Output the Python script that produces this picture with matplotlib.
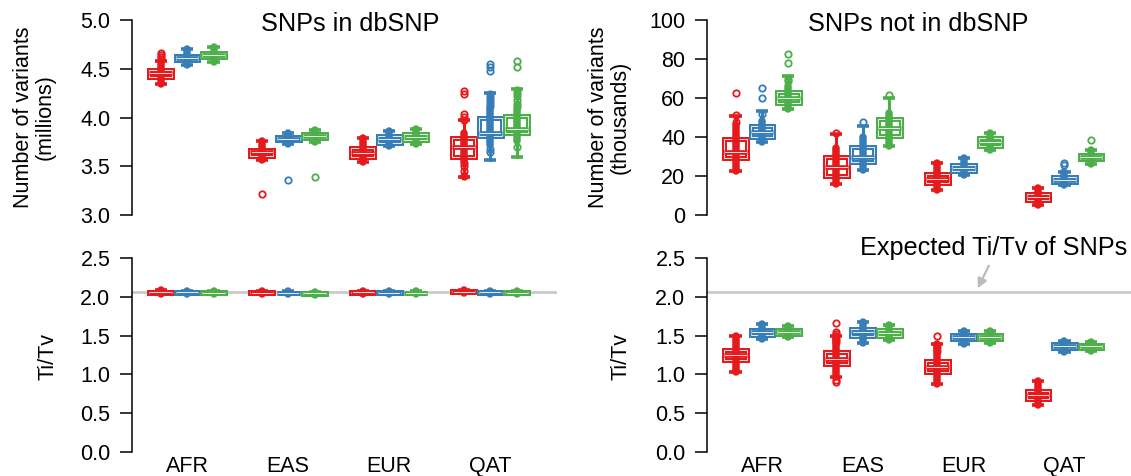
import matplotlib.pyplot as plt
from matplotlib.patches import Rectangle

plt.rcParams['font.family'] = ['Liberation Sans', 'DejaVu Sans']

populations = ['AFR', 'EAS', 'EUR', 'QAT']
colors = ['#E41A1C', '#377EB8', '#4DAF4A']
expected_titv = 2.06

# SNPs in dbSNP (millions); rows = red, blue, green series; columns = populations
known_lo = [[4.34, 3.56, 3.54, 3.39], [4.54, 3.73, 3.71, 3.56], [4.57, 3.75, 3.73, 3.59]]
known_q1 = [[4.42, 3.61, 3.60, 3.60], [4.59, 3.765, 3.74, 3.81], [4.62, 3.79, 3.77, 3.84]]
known_med = [[4.46, 3.645, 3.64, 3.70], [4.61, 3.78, 3.78, 3.84], [4.64, 3.81, 3.80, 3.88]]
known_q3 = [[4.49, 3.67, 3.69, 3.79], [4.63, 3.80, 3.81, 3.99], [4.66, 3.83, 3.83, 4.02]]
known_hi = [[4.58, 3.76, 3.79, 3.97], [4.70, 3.84, 3.86, 4.25], [4.72, 3.87, 3.88, 4.29]]
known_core_lo = [[4.34, 3.56, 3.54, 3.55], [4.54, 3.73, 3.71, 3.72], [4.57, 3.75, 3.73, 3.76]]
known_core_hi = [[4.58, 3.76, 3.79, 3.84], [4.70, 3.84, 3.86, 4.10], [4.72, 3.87, 3.88, 4.08]]
known_pts = [
    [[4.60, 4.62, 4.64, 4.66], [3.22], [], [4.27, 4.24, 4.04, 4.01, 3.97, 3.53, 3.50, 3.45, 3.40]],
    [[], [3.36], [], [4.55, 4.52, 4.48, 4.24, 4.21, 4.18, 4.15, 4.12, 3.68, 3.65]],
    [[], [3.39], [], [4.58, 4.52, 4.28, 4.25, 4.22, 4.18, 4.14, 4.11, 3.70]],
]

# SNPs not in dbSNP (thousands)
novel_lo = [[22.5, 16, 13, 5], [37.5, 23, 20.5, 15.5], [54.5, 35.5, 33.5, 26]]
novel_q1 = [[29, 20, 16.5, 7.5], [40, 27, 22.5, 17], [57.5, 40.5, 35.5, 28.5]]
novel_med = [[32.5, 24.5, 18.5, 9], [42.5, 30, 24, 18], [60, 44.5, 37.5, 29.5]]
novel_q3 = [[39, 29.8, 21, 11], [45.5, 34.7, 25.5, 19.5], [63, 49, 39.5, 31]]
novel_hi = [[51, 41.5, 26.5, 14], [53.5, 45.5, 29, 22], [71.5, 60, 42, 33.5]]
novel_core_lo = novel_lo
novel_core_hi = [[46, 34.5, 26.5, 14], [48, 40, 29, 22], [66, 52.5, 42, 33.5]]
novel_pts = [
    [[62.5, 51.5, 47.5], [42], [], []],
    [[65, 60, 52], [47.5], [], [26.5, 25.5]],
    [[82.5, 78, 70, 68.5], [61.5], [], [38.5]],
]

# Ti/Tv of SNPs in dbSNP
titv_known_lo = [[2.035, 2.03, 2.035, 2.045], [2.04, 2.03, 2.035, 2.04], [2.035, 2.025, 2.03, 2.035]]
titv_known_q1 = [[2.055, 2.05, 2.055, 2.06], [2.055, 2.045, 2.05, 2.055], [2.05, 2.04, 2.045, 2.05]]
titv_known_med = [[2.06, 2.055, 2.06, 2.065], [2.06, 2.05, 2.055, 2.06], [2.055, 2.045, 2.05, 2.055]]
titv_known_q3 = [[2.065, 2.06, 2.065, 2.07], [2.065, 2.055, 2.06, 2.065], [2.06, 2.05, 2.055, 2.06]]
titv_known_hi = [[2.085, 2.075, 2.08, 2.09], [2.08, 2.07, 2.075, 2.08], [2.075, 2.065, 2.07, 2.075]]
titv_known_pts = [[[], [], [], []], [[], [], [], []], [[], [], [], []]]

# Ti/Tv of SNPs not in dbSNP
titv_novel_lo = [[1.03, 0.97, 0.87, 0.60], [1.46, 1.41, 1.39, 1.29], [1.48, 1.44, 1.41, 1.30]]
titv_novel_q1 = [[1.19, 1.14, 1.03, 0.68], [1.51, 1.50, 1.46, 1.34], [1.52, 1.50, 1.46, 1.34]]
titv_novel_med = [[1.25, 1.20, 1.10, 0.73], [1.54, 1.54, 1.48, 1.36], [1.55, 1.53, 1.48, 1.36]]
titv_novel_q3 = [[1.32, 1.29, 1.17, 0.78], [1.57, 1.58, 1.51, 1.39], [1.57, 1.57, 1.51, 1.38]]
titv_novel_hi = [[1.50, 1.49, 1.39, 0.92], [1.65, 1.68, 1.56, 1.43], [1.63, 1.64, 1.56, 1.42]]
titv_novel_pts = [
    [[], [1.66, 1.55, 1.52, 1.45, 1.42, 0.93, 0.90], [1.49, 1.35, 1.30], []],
    [[], [], [], []],
    [[], [], [], []],
]

offsets = [-0.262, 0.0, 0.262]
box_w = 0.225
cap_w = 0.12


def draw_boxes(ax, lo, q1, med, q3, hi, pts, core_lo=None, core_hi=None):
    if core_lo is None:
        core_lo, core_hi = lo, hi
    for s, col in enumerate(colors):
        for p in range(len(populations)):
            x = p + 1 + offsets[s]
            # box outline, drawn thick in colour then thin in white
            for ec, lw, z in [(col, 3.6, 2), ('white', 0.6, 3)]:
                ax.add_patch(Rectangle((x - box_w / 2, q1[s][p]), box_w,
                                       q3[s][p] - q1[s][p], fill=False,
                                       edgecolor=ec, lw=lw, zorder=z))
            # whiskers and caps
            ax.plot([x, x], [lo[s][p], q1[s][p]], color=col, lw=2.2, zorder=2)
            ax.plot([x, x], [q3[s][p], hi[s][p]], color=col, lw=2.2, zorder=2)
            for yc in (lo[s][p], hi[s][p]):
                ax.plot([x - cap_w / 2, x + cap_w / 2], [yc, yc], color=col,
                        lw=2.6, solid_capstyle='butt', zorder=2)
            # dense band of overlapping samples
            ax.plot([x, x], [core_lo[s][p], core_hi[s][p]], color=col, lw=5.4,
                    solid_capstyle='round', zorder=4)
            # median
            ax.plot([x - box_w / 2, x + box_w / 2], [med[s][p]] * 2, color=col,
                    lw=3.4, solid_capstyle='butt', zorder=5)
            ax.plot([x - box_w / 2 + 0.012, x + box_w / 2 - 0.012], [med[s][p]] * 2,
                    color='white', lw=0.6, zorder=6)
            if pts[s][p]:
                ax.plot([x] * len(pts[s][p]), pts[s][p], 'o', ms=4.6,
                        mfc='none', mec=col, mew=1.3, zorder=4)


def style_axis(ax, ylim, yticks, fmt, xlabels=False):
    ax.set_xlim(0.455, 4.66)
    ax.set_ylim(*ylim)
    for side in ['top', 'right', 'bottom']:
        ax.spines[side].set_visible(False)
    ax.spines['left'].set_bounds(yticks[0], yticks[-1])
    ax.spines['left'].set_linewidth(1.1)
    ax.set_yticks(yticks)
    ax.set_yticklabels([fmt.format(t) for t in yticks])
    ax.tick_params(axis='y', length=8.6, width=1.1, pad=7, labelsize=15.5)
    ax.set_xticks(range(1, len(populations) + 1))
    if xlabels:
        ax.set_xticklabels(populations)
        ax.tick_params(axis='x', length=0, pad=3, labelsize=15.5)
    else:
        ax.set_xticklabels([])
        ax.tick_params(axis='x', length=0)
    ax.patch.set_visible(False)


W, H = 1131, 476
fig = plt.figure(figsize=(W / 100, H / 100), dpi=100)


def px_axes(left, top, right, bottom):
    return fig.add_axes([left / W, 1 - bottom / H, (right - left) / W, (bottom - top) / H])


ax_known = px_axes(132, 20, 557, 215)
ax_novel = px_axes(707, 20, 1131, 215)
ax_tk = px_axes(132, 258, 557, 452)
ax_tn = px_axes(707, 258, 1131, 452)

draw_boxes(ax_known, known_lo, known_q1, known_med, known_q3, known_hi, known_pts,
           known_core_lo, known_core_hi)
draw_boxes(ax_novel, novel_lo, novel_q1, novel_med, novel_q3, novel_hi, novel_pts,
           novel_core_lo, novel_core_hi)
for ax in (ax_tk, ax_tn):
    ax.axhline(expected_titv, color='#C8C8C8', lw=1.9, zorder=1)
draw_boxes(ax_tk, titv_known_lo, titv_known_q1, titv_known_med, titv_known_q3,
           titv_known_hi, titv_known_pts)
draw_boxes(ax_tn, titv_novel_lo, titv_novel_q1, titv_novel_med, titv_novel_q3,
           titv_novel_hi, titv_novel_pts)

style_axis(ax_known, (3.0, 5.0), [3.0, 3.5, 4.0, 4.5, 5.0], '{:.1f}')
style_axis(ax_novel, (0, 100), [0, 20, 40, 60, 80, 100], '{:.0f}')
style_axis(ax_tk, (0, 2.5), [0.0, 0.5, 1.0, 1.5, 2.0, 2.5], '{:.1f}', xlabels=True)
style_axis(ax_tn, (0, 2.5), [0.0, 0.5, 1.0, 1.5, 2.0, 2.5], '{:.1f}', xlabels=True)

ax_known.text(0.513, 0.98, 'SNPs in dbSNP', transform=ax_known.transAxes,
              ha='center', va='center', fontsize=18.2)
ax_novel.text(0.497, 0.98, 'SNPs not in dbSNP', transform=ax_novel.transAxes,
              ha='center', va='center', fontsize=18.2)

# y labels, placed relative to each axis line
for x_px, y_px, label in [(34, 117, 'Number of variants\n(millions)'),
                          (609, 117, 'Number of variants\n(thousands)'),
                          (48, 356, 'Ti/Tv'),
                          (621, 356, 'Ti/Tv')]:
    fig.text(x_px / W, 1 - y_px / H, label, rotation=90, ha='center', va='center',
             fontsize=15.5, linespacing=1.05)

ax_tn.text(4.62, 2.63, 'Expected Ti/Tv of SNPs', ha='right', va='center',
           fontsize=18.2, clip_on=False)
ax_tn.annotate('', xy=(3.14, 2.11), xytext=(3.25, 2.40),
               arrowprops=dict(arrowstyle='-|>', color='#BBBBBB', lw=1.6,
                               mutation_scale=14, shrinkA=0, shrinkB=0),
               annotation_clip=False)

plt.savefig('out.png', dpi=100)
